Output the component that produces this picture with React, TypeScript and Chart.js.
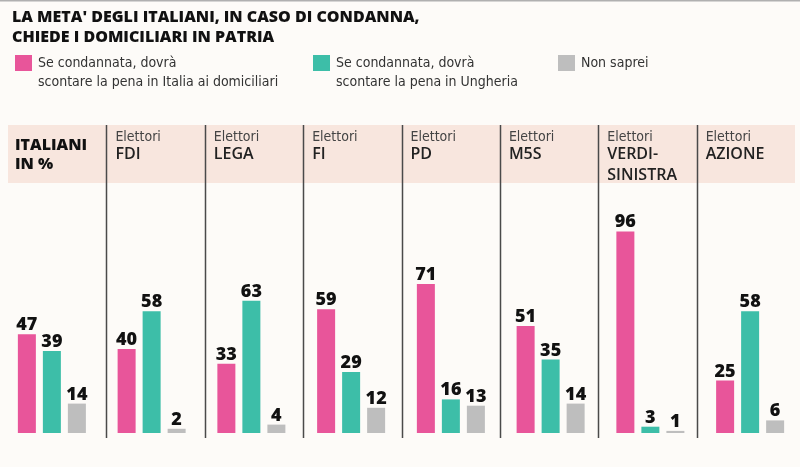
import React, { useEffect, useRef } from "react";
import { Chart, registerables } from "chart.js";

Chart.register(...registerables);

const titleLines = [
  "LA META' DEGLI ITALIANI, IN CASO DI CONDANNA,",
  "CHIEDE I DOMICILIARI IN PATRIA",
];

const groupPrefix = ["", "Elettori", "Elettori", "Elettori", "Elettori", "Elettori", "Elettori", "Elettori"];
const groupNames = [
  ["ITALIANI", "IN %"],
  ["FDI"],
  ["LEGA"],
  ["FI"],
  ["PD"],
  ["M5S"],
  ["VERDI-", "SINISTRA"],
  ["AZIONE"],
];
const categories = ["ITALIANI IN %", "FDI", "LEGA", "FI", "PD", "M5S", "VERDI-SINISTRA", "AZIONE"];

const seriesLabels = [
  ["Se condannata, dovrà", "scontare la pena in Italia ai domiciliari"],
  ["Se condannata, dovrà", "scontare la pena in Ungheria"],
  ["Non saprei"],
];
const domiciliari = [47, 40, 33, 59, 71, 51, 96, 25];
const ungheria = [39, 58, 63, 29, 16, 35, 3, 58];
const nonSaprei = [14, 2, 4, 12, 13, 14, 1, 6];

const colors = ["#e8559a", "#3dbea8", "#bebebe"];

const COND = '"Liberation Sans Narrow", "DejaVu Sans Condensed", "Open Sans", sans-serif';
const BOLD = '"Open Sans", "DejaVu Sans", sans-serif';

const decorPlugin = {
  id: "decor",
  beforeDraw(chart: any) {
    const { ctx, chartArea, width } = chart;
    ctx.save();
    ctx.fillStyle = "#fdfbf8";
    ctx.fillRect(0, 0, chart.width, chart.height);
    // top rule
    ctx.fillStyle = "#b0b0b0";
    ctx.fillRect(0, 0, width, 1.5);

    // title
    ctx.fillStyle = "#111";
    ctx.font = `800 16px ${BOLD}`;
    ctx.textBaseline = "alphabetic";
    ctx.textAlign = "left";
    ctx.fillText(titleLines[0], 12, 22);
    ctx.fillText(titleLines[1], 12, 42);

    // legend
    const legendX = [15, 313, 558];
    chart.data.datasets.forEach((ds: any, i: number) => {
      const x = legendX[i];
      ctx.fillStyle = ds.backgroundColor;
      ctx.fillRect(x, 55, 17, 16);
      ctx.fillStyle = "#333";
      ctx.font = `14px ${COND}`;
      (ds.legendLines as string[]).forEach((t, j) => {
        ctx.fillText(t, x + 23, 67 + j * 19);
      });
    });

    // header band
    const gridLeft = chartArea.left + 6;
    const gridRight = chartArea.right - 5;
    const n = chart.data.labels.length;
    const cellW = (gridRight - gridLeft) / n;
    ctx.fillStyle = "#f8e6de";
    ctx.fillRect(gridLeft, chartArea.top, gridRight - gridLeft, 58);

    // header labels
    for (let k = 0; k < n; k++) {
      const x0 = gridLeft + k * cellW;
      if (groupPrefix[k]) {
        ctx.fillStyle = "#444";
        ctx.font = `14px ${COND}`;
        ctx.fillText(groupPrefix[k], x0 + 9, 141);
        ctx.fillStyle = "#222";
        ctx.font = `600 16px ${BOLD}`;
        groupNames[k].forEach((t, j) => ctx.fillText(t, x0 + 9, 159 + j * 21));
      } else {
        ctx.fillStyle = "#111";
        ctx.font = `800 16px ${BOLD}`;
        groupNames[k].forEach((t, j) => ctx.fillText(t, x0 + 7, 150 + j * 19));
      }
    }

    // separators
    ctx.strokeStyle = "#4a4a4a";
    ctx.lineWidth = 1.5;
    for (let k = 1; k < n; k++) {
      const x = Math.round(gridLeft + k * cellW) + 0.5;
      ctx.beginPath();
      ctx.moveTo(x, chartArea.top);
      ctx.lineTo(x, chartArea.bottom + 5);
      ctx.stroke();
    }
    ctx.restore();
  },
  afterDatasetsDraw(chart: any) {
    const { ctx } = chart;
    ctx.save();
    ctx.fillStyle = "#111";
    ctx.font = `800 18px ${BOLD}`;
    ctx.textAlign = "center";
    ctx.textBaseline = "alphabetic";
    chart.data.datasets.forEach((ds: any, i: number) => {
      const meta = chart.getDatasetMeta(i);
      meta.data.forEach((bar: any, j: number) => {
        ctx.fillText(String(ds.data[j]), bar.x, bar.y - 4);
      });
    });
    ctx.restore();
  },
};

export default function App() {
  const ref = useRef<HTMLCanvasElement>(null);
  useEffect(() => {
    if (!ref.current) return;
    const series = [domiciliari, ungheria, nonSaprei];
    const chart = new Chart(ref.current, {
      type: "bar",
      data: {
        labels: categories,
        datasets: series.map((d, i) => ({
          label: seriesLabels[i].join(" "),
          legendLines: seriesLabels[i],
          data: d,
          backgroundColor: colors[i],
          borderWidth: 0,
          categoryPercentage: 0.752,
          barPercentage: 0.72,
        })) as any,
      },
      options: {
        responsive: false,
        animation: false,
        layout: { padding: { left: 2, right: 0, top: 125, bottom: 34 } },
        plugins: { legend: { display: false }, title: { display: false }, tooltip: { enabled: false } },
        scales: {
          x: { display: false },
          y: { display: false, min: 0, max: 146.7 },
        },
      },
      plugins: [decorPlugin],
    });
    return () => chart.destroy();
  }, []);
  return (
    <div style={{ position: "fixed", left: 0, top: 0, width: 800, height: 467 }}>
      <canvas ref={ref} width={800} height={467} style={{ display: "block" }} />
    </div>
  );
}
